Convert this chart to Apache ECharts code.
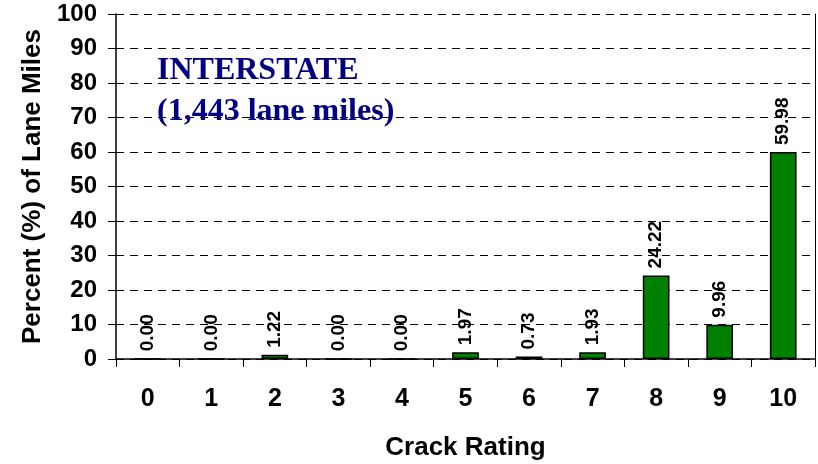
<!DOCTYPE html>
<html>
<head>
<meta charset="utf-8">
<script src="https://cdn.jsdelivr.net/npm/echarts@6/dist/echarts.min.js"></script>
<style>
html, body { margin: 0; padding: 0; background: #fff; }
#chart { width: 818px; height: 464px; }
</style>
</head>
<body>
<div id="chart"></div>
<script>
var categories = ['0', '1', '2', '3', '4', '5', '6', '7', '8', '9', '10'];
var percents = [0.00, 0.00, 1.22, 0.00, 0.00, 1.97, 0.73, 1.93, 24.22, 9.96, 59.98];
var yTicks = [0, 10, 20, 30, 40, 50, 60, 70, 80, 90, 100];

var myChart = echarts.init(document.getElementById('chart'));

function bold(size) {
    return {
        color: '#000',
        fontFamily: 'Liberation Sans, Arial',
        fontWeight: 'bold',
        fontSize: size
    };
}

var option = {
    animation: false,
    title: {
        text: 'INTERSTATE\n(1,443 lane miles)',
        left: 152,
        top: 45,
        textStyle: {
            color: '#000080',
            fontFamily: 'Liberation Serif, Times New Roman',
            fontWeight: 'bold',
            fontSize: 32,
            lineHeight: 41
        }
    },
    grid: { left: 116, right: 3, top: 14, bottom: 105, outerBoundsMode: 'none' },
    xAxis: {
        type: 'category',
        data: categories,
        name: 'Crack Rating',
        nameLocation: 'middle',
        nameGap: 76,
        nameTextStyle: bold(26),
        axisLine: { lineStyle: { color: '#000', width: 1.5 } },
        axisTick: { show: true, length: 8, lineStyle: { color: '#000' } },
        axisLabel: Object.assign({ margin: 28 }, bold(25))
    },
    yAxis: [{
        type: 'value',
        min: yTicks[0],
        max: yTicks[yTicks.length - 1],
        interval: 10,
        name: 'Percent (%) of Lane Miles',
        nameLocation: 'middle',
        nameGap: 70,
        nameTextStyle: bold(26),
        axisLine: { show: true, lineStyle: { color: '#000', width: 1.5 } },
        axisTick: { show: true, length: 8, lineStyle: { color: '#000' } },
        axisLabel: Object.assign({ margin: 19 }, bold(24)),
        splitLine: { lineStyle: { color: '#000', type: [8, 6], width: 1 } }
    }, {
        type: 'value',
        position: 'right',
        min: 0,
        max: 100,
        axisLine: { show: true, lineStyle: { color: '#000', width: 1 } },
        axisTick: { show: false },
        axisLabel: { show: false },
        splitLine: { show: false }
    }],
    series: [{
        type: 'bar',
        data: percents,
        barWidth: '42%',
        itemStyle: { color: '#008000', borderColor: '#000', borderWidth: 1.5 },
        label: Object.assign({
            show: true,
            position: 'top',
            rotate: 90,
            align: 'left',
            verticalAlign: 'middle',
            distance: 7,
            formatter: function (p) { return p.value.toFixed(2); }
        }, bold(19))
    }]
};
myChart.setOption(option);
</script>
</body>
</html>
